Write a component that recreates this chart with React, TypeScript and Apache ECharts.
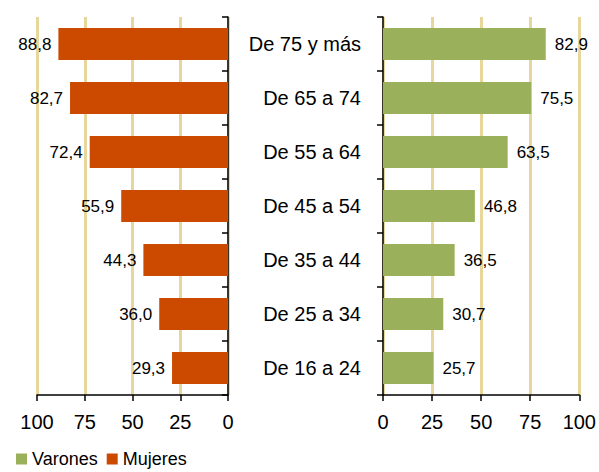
import React, { useEffect, useRef } from "react";
import * as echarts from "echarts";

const categories = ["De 16 a 24", "De 25 a 34", "De 35 a 44", "De 45 a 54", "De 55 a 64", "De 65 a 74", "De 75 y más"];
const mujeres = [29.3, 36.0, 44.3, 55.9, 72.4, 82.7, 88.8];
const varones = [25.7, 30.7, 36.5, 46.8, 63.5, 75.5, 82.9];
const axisTicks = [0, 25, 50, 75, 100];

const FONT = 'Arial, "Liberation Sans", sans-serif';
const GRID_COLOR = "#E8D79C";
const fmt = (v: number) => v.toFixed(1).replace(".", ",");

export default function App() {
  const ref = useRef<HTMLDivElement>(null);
  useEffect(() => {
    if (!ref.current) return;
    const chart = echarts.init(ref.current, null, { renderer: "svg" });
    const xAxisBase = (gridIndex: number, inverse: boolean) => ({
      type: "value" as const,
      gridIndex,
      inverse,
      min: axisTicks[0],
      max: axisTicks[axisTicks.length - 1],
      interval: 25,
      axisLine: { show: true, lineStyle: { color: "#000", width: 1.5 } },
      axisTick: { show: true, length: 6, lineStyle: { color: "#000", width: 1.5 } },
      axisLabel: { fontSize: 20, color: "#000", fontFamily: FONT, margin: 17 },
      splitLine: { show: true, lineStyle: { color: GRID_COLOR, width: 3 } },
    });
    chart.setOption({
      animation: false,
      backgroundColor: "#fff",
      textStyle: { fontFamily: FONT },
      legend: {
        data: ["Varones", "Mujeres"],
        left: 14,
        top: 448,
        padding: 2,
        icon: "rect",
        itemWidth: 11,
        itemHeight: 11,
        itemGap: 9,
        textStyle: { fontSize: 18, lineHeight: 18, color: "#000", fontFamily: FONT },
      },
      grid: [
        { left: 37, right: 371, top: 17, height: 378, containLabel: false },
        { left: 383, right: 19, top: 17, height: 378, containLabel: false },
      ],
      xAxis: [xAxisBase(0, true), xAxisBase(1, false)],
      yAxis: [
        {
          type: "category",
          gridIndex: 0,
          position: "right",
          data: categories,
          axisLine: { show: true, lineStyle: { color: "#000", width: 1.5 } },
          axisTick: { show: true, inside: true, length: 6, lineStyle: { color: "#000", width: 1.5 } },
          axisLabel: { show: false },
          splitLine: { show: false },
        },
        {
          type: "category",
          gridIndex: 1,
          position: "left",
          data: categories,
          axisLine: { show: true, lineStyle: { color: "#000", width: 1.5 } },
          axisTick: { show: true, length: 6, lineStyle: { color: "#000", width: 1.5 } },
          axisLabel: {
            fontSize: 20,
            color: "#000",
            fontFamily: FONT,
            margin: 22,
            padding: [0, 0, 8, 0],
          },
          splitLine: { show: false },
        },
      ],
      series: [
        {
          name: "Varones",
          type: "bar",
          xAxisIndex: 1,
          yAxisIndex: 1,
          data: varones,
          barCategoryGap: "41%",
          itemStyle: { color: "#9BB05A" },
          label: {
            show: true,
            position: "right",
            distance: 9,
            fontSize: 17,
            color: "#000",
            fontFamily: FONT,
            formatter: (p: any) => fmt(p.value),
          },
        },
        {
          name: "Mujeres",
          type: "bar",
          xAxisIndex: 0,
          yAxisIndex: 0,
          data: mujeres,
          barCategoryGap: "41%",
          itemStyle: { color: "#CC4A00" },
          label: {
            show: true,
            position: "left",
            distance: 7,
            fontSize: 17,
            color: "#000",
            fontFamily: FONT,
            formatter: (p: any) => fmt(p.value),
          },
        },
      ],
    });
    return () => chart.dispose();
  }, []);
  return (
    <div
      ref={ref}
      style={{ position: "fixed", left: 0, top: 0, width: 599, height: 472, background: "#fff" }}
    />
  );
}
